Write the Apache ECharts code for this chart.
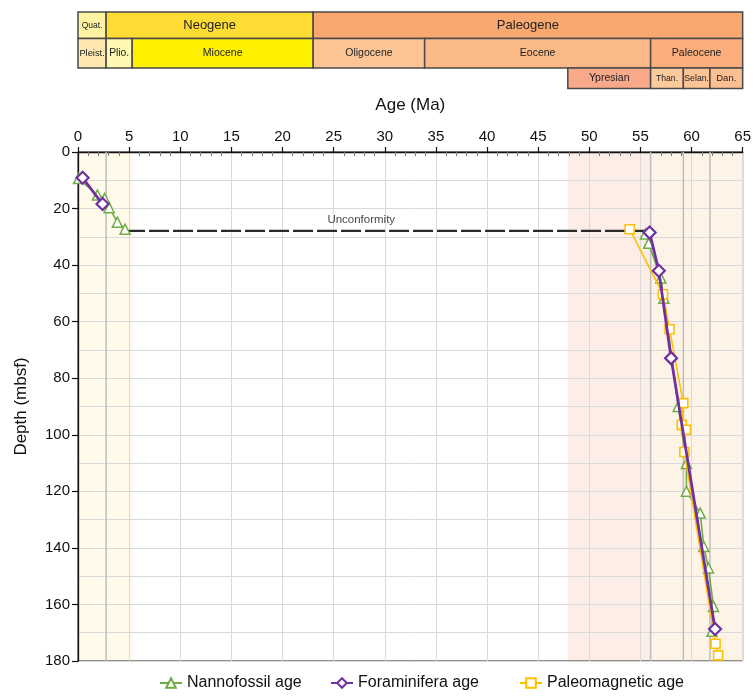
<!DOCTYPE html>
<html>
<head>
<meta charset="utf-8">
<script src="https://cdn.jsdelivr.net/npm/echarts@6/dist/echarts.min.js"></script>
<style>
  html, body { margin: 0; padding: 0; background: #fff; }
  #chart { width: 754px; height: 700px; }
</style>
</head>
<body>
<div id="chart"></div>
<script>
// datums: [age (Ma), depth (mbsf)]
const nannoUpper = [[0.05, 9.4], [1.9, 15.2], [2.6, 16.4], [3.05, 19.7], [3.85, 24.8], [4.6, 27.3]];
const nannoLower = [[55.5, 29.0], [55.8, 32.3], [57.0, 44.6], [57.3, 51.7], [58.7, 90.0], [59.5, 110.2],
  [59.5, 120.0], [60.85, 127.7], [61.2, 139.5], [61.65, 147.1], [62.15, 160.7], [62.0, 169.5]];
const foramUpper = [[0.45, 9.1], [2.4, 18.4]];
const foramLower = [[55.9, 28.5], [56.8, 42.0], [58.0, 72.9], [62.3, 168.7]];
const paleomag = [[53.95, 27.3], [57.2, 50.3], [57.85, 62.7], [59.2, 88.8], [59.05, 96.5], [59.45, 98.2],
  [59.3, 106.1], [62.35, 173.9], [62.6, 178.0]];
const unconformity = [[4.6, 27.9], [55.9, 27.9]];
const unconformityLabel = [[27.7, 27.9]];

// time scale header
const headerNames = ['Quat.', 'Neogene', 'Paleogene', 'Pleist.', 'Plio.', 'Miocene', 'Oligocene', 'Eocene',
  'Paleocene', 'Ypresian', 'Than.', 'Selan.', 'Dan.'];
const headerStart = [0, 2.75, 23.0, 0, 2.75, 5.3, 23.0, 33.9, 56.0, 47.9, 56.0, 59.2, 61.8];
const headerEnd = [2.75, 23.0, 65, 2.75, 5.3, 23.0, 33.9, 56.0, 65, 56.0, 59.2, 61.8, 65];
const headerRow = [0, 0, 0, 1, 1, 1, 1, 1, 1, 2, 2, 2, 2];

// shaded stages behind the plot and boundary lines
const bandStart = [0, 47.9, 56.0];
const bandEnd = [5.3, 56.0, 65];
const boundaryAges = [2.75, 56.0, 59.2, 61.8];

const xTicks = [0, 5, 10, 15, 20, 25, 30, 35, 40, 45, 50, 55, 60, 65];
const yTicks = [0, 20, 40, 60, 80, 100, 120, 140, 160, 180];

// styles
const headerColors = ['#FFF3A3', '#FFDC33', '#F9A96F', '#FFE8AF', '#FFF8B2', '#FFF000', '#FDC596',
  '#FBB988', '#FBAE7C', '#F7A98A', '#FDCA9C', '#FDC596', '#FCBF92'];
const headerFont = [8.5, 13, 13, 9.3, 10.3, 10.5, 10.5, 10.5, 10.5, 10.5, 8.7, 8.7, 9.5];
const rowTop = [12, 38.5, 68];
const rowHeight = [26.5, 29.5, 20.5];
const bandColors = ['#FFFAE9', '#FCEEE6', '#FDF3E7'];
const FONT = 'Liberation Sans, Arial, sans-serif';

const chart = echarts.init(document.getElementById('chart'));

const legendBase = {
  bottom: 4, itemWidth: 22, itemHeight: 12,
  textStyle: { fontSize: 16, color: '#111', fontFamily: FONT }
};

const option = {
  animation: false,
  textStyle: { fontFamily: FONT },
  grid: {
    left: 78, right: 9, top: 152, bottom: 39,
    show: true, borderColor: '#222', borderWidth: 1, backgroundColor: 'transparent'
  },
  legend: [
    Object.assign({ left: 154, data: ['Nannofossil age'] }, legendBase),
    Object.assign({ left: 325, data: ['Foraminifera age'] }, legendBase),
    Object.assign({ left: 514, data: ['Paleomagnetic age'] }, legendBase)
  ],
  xAxis: [
    {
      type: 'value', position: 'top', min: xTicks[0], max: xTicks[xTicks.length - 1], interval: 5,
      name: 'Age (Ma)', nameLocation: 'middle', nameGap: 38,
      nameTextStyle: { fontSize: 17, color: '#111' },
      axisLine: { lineStyle: { color: '#111', width: 1.3 } },
      axisTick: { length: 5, lineStyle: { color: '#111', width: 1.2 } },
      axisLabel: { fontSize: 15, color: '#111', margin: 8 },
      splitLine: { lineStyle: { color: '#d9d9d9' } }
    },
    {
      type: 'value', position: 'top', min: 0, max: 65, interval: 5,
      axisLine: { show: false },
      axisTick: { show: false, inside: true },
      minorTick: { show: true, splitNumber: 5, length: 4, lineStyle: { color: '#777' } },
      axisLabel: { show: false },
      splitLine: { show: false }
    }
  ],
  yAxis: {
    type: 'value', inverse: true, min: yTicks[0], max: yTicks[yTicks.length - 1], interval: 20,
    name: 'Depth (mbsf)', nameLocation: 'middle', nameGap: 48,
    nameTextStyle: { fontSize: 17, color: '#111' },
    axisLine: { show: true, lineStyle: { color: '#111', width: 1.3 } },
    axisTick: { show: true, length: 6, lineStyle: { color: '#111', width: 1.2 } },
    axisLabel: { fontSize: 15, color: '#111', margin: 8 },
    splitLine: { lineStyle: { color: '#d9d9d9' } },
    minorTick: { show: false, splitNumber: 2 },
    minorSplitLine: { show: true, lineStyle: { color: '#d9d9d9' } }
  },
  series: [
    {
      // stage shading
      type: 'custom', silent: true, z: -1,
      data: bandStart.map((s, i) => [s, bandEnd[i]]),
      encode: { x: [0, 1] },
      renderItem(params, api) {
        const p0 = api.coord([api.value(0), 0]);
        const p1 = api.coord([api.value(1), 180]);
        return {
          type: 'rect',
          shape: { x: p0[0], y: p0[1], width: p1[0] - p0[0], height: p1[1] - p0[1] },
          style: { fill: bandColors[params.dataIndex] }
        };
      }
    },
    {
      // stage boundaries
      type: 'custom', silent: true, z: 1,
      data: boundaryAges.map(a => [a]),
      encode: { x: 0 },
      renderItem(params, api) {
        const p0 = api.coord([api.value(0), 0]);
        const p1 = api.coord([api.value(0), 180]);
        return {
          type: 'line',
          shape: { x1: p0[0], y1: p0[1], x2: p1[0], y2: p1[1] },
          style: { stroke: '#bdbdbd', lineWidth: 1.5 }
        };
      }
    },
    {
      // time scale header
      type: 'custom', silent: true, clip: false, z: 5,
      data: headerStart.map((s, i) => [s, headerEnd[i], headerRow[i]]),
      encode: { x: [0, 1] },
      renderItem(params, api) {
        const i = params.dataIndex;
        const row = api.value(2);
        const x0 = api.coord([api.value(0), 0])[0];
        const x1 = api.coord([api.value(1), 0])[0];
        return {
          type: 'rect',
          shape: { x: x0, y: rowTop[row], width: x1 - x0, height: rowHeight[row] },
          style: { fill: headerColors[i], stroke: '#4a4a4a', lineWidth: 1.5 },
          textContent: {
            style: { text: headerNames[i], fontSize: headerFont[i], fill: '#222', fontFamily: FONT }
          },
          textConfig: { position: 'inside' }
        };
      }
    },
    {
      name: 'Unconformity', type: 'line', data: unconformity, z: 2,
      symbol: 'none', silent: true,
      lineStyle: { color: '#2a2a2a', width: 2.2, type: [20, 4] }
    },
    {
      type: 'scatter', data: unconformityLabel, silent: true, z: 2,
      symbolSize: 1, itemStyle: { color: 'rgba(0,0,0,0)' },
      label: {
        show: true, position: 'top', distance: 5, fontSize: 11.5, color: '#111',
        fontFamily: FONT, formatter: 'Unconformity'
      }
    },
    {
      name: 'Nannofossil age', type: 'line', data: nannoUpper, z: 3,
      symbol: 'triangle', symbolSize: 10,
      lineStyle: { color: '#70AD47', width: 1.6 },
      itemStyle: { color: '#fff', borderColor: '#70AD47', borderWidth: 1.5 }
    },
    {
      name: 'Nannofossil age', type: 'line', data: nannoLower, z: 3,
      symbol: 'triangle', symbolSize: 10,
      lineStyle: { color: '#70AD47', width: 1.6 },
      itemStyle: { color: '#fff', borderColor: '#70AD47', borderWidth: 1.5 }
    },
    {
      name: 'Paleomagnetic age', type: 'line', data: paleomag, z: 4,
      symbol: 'rect', symbolSize: 9,
      lineStyle: { color: '#FFC000', width: 1.6 },
      itemStyle: { color: '#fff', borderColor: '#FFC000', borderWidth: 1.6 }
    },
    {
      name: 'Foraminifera age', type: 'line', data: foramUpper, z: 5,
      symbol: 'diamond', symbolSize: 12,
      lineStyle: { color: '#7030A0', width: 2.8 },
      itemStyle: { color: '#fff', borderColor: '#7030A0', borderWidth: 2.2 }
    },
    {
      name: 'Foraminifera age', type: 'line', data: foramLower, z: 5,
      symbol: 'diamond', symbolSize: 12,
      lineStyle: { color: '#7030A0', width: 2.8 },
      itemStyle: { color: '#fff', borderColor: '#7030A0', borderWidth: 2.2 }
    }
  ]
};

chart.setOption(option);
</script>
</body>
</html>
